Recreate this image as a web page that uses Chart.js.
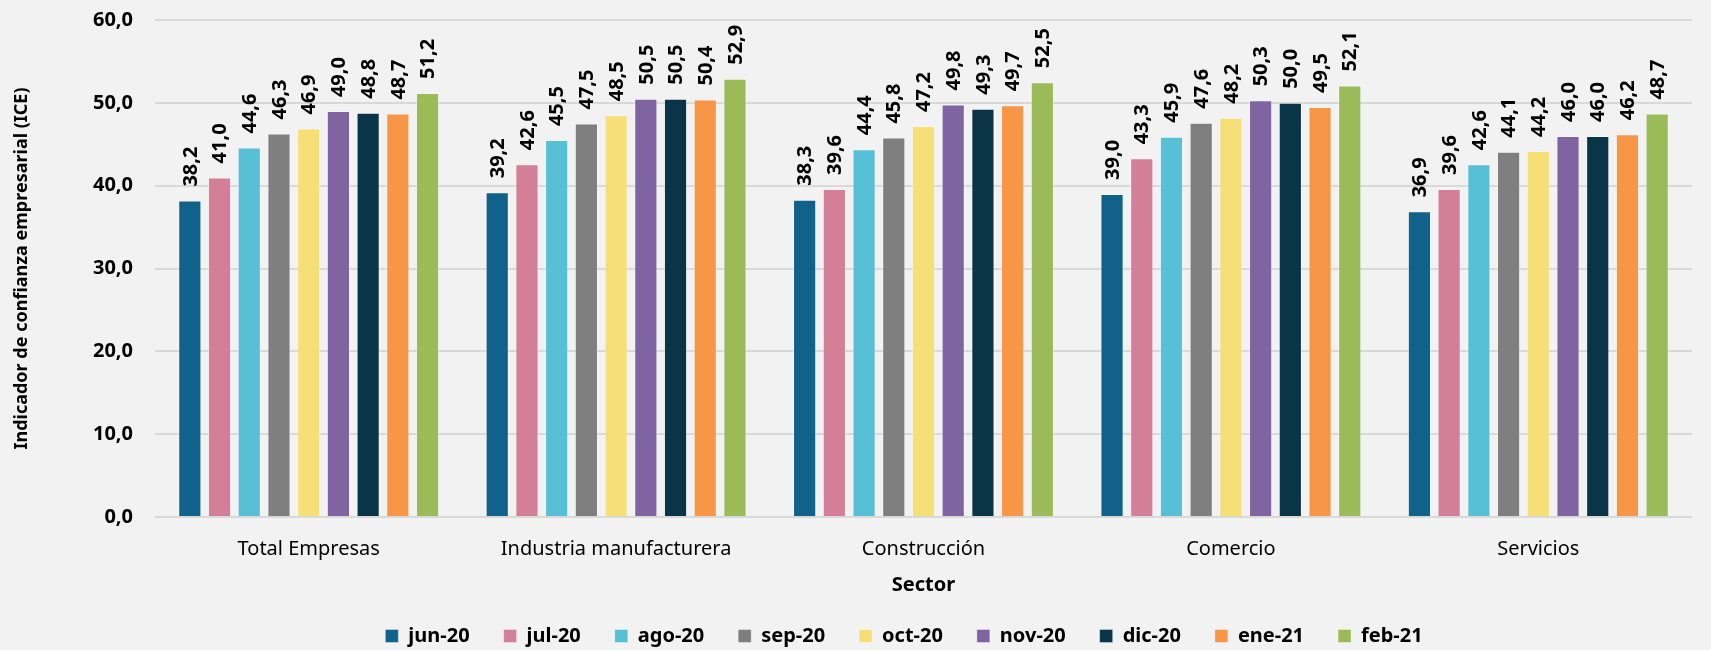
<!DOCTYPE html>
<html>
<head>
<meta charset="utf-8">
<script src="https://cdn.jsdelivr.net/npm/chart.js@4/dist/chart.umd.min.js"></script>
<style>
  html, body { margin: 0; padding: 0; background: #f2f2f2; }
  #wrap { width: 1711px; height: 650px; position: relative; }
</style>
</head>
<body>
<div id="wrap"><canvas id="chart"></canvas></div>
<script>
// categories and series (one array per month)
const sectors = ["Total Empresas", "Industria manufacturera", "Construcción", "Comercio", "Servicios"];
const months = ["jun-20", "jul-20", "ago-20", "sep-20", "oct-20", "nov-20", "dic-20", "ene-21", "feb-21"];

const jun20 = [38.2, 39.2, 38.3, 39.0, 36.9];
const jul20 = [41.0, 42.6, 39.6, 43.3, 39.6];
const ago20 = [44.6, 45.5, 44.4, 45.9, 42.6];
const sep20 = [46.3, 47.5, 45.8, 47.6, 44.1];
const oct20 = [46.9, 48.5, 47.2, 48.2, 44.2];
const nov20 = [49.0, 50.5, 49.8, 50.3, 46.0];
const dic20 = [48.8, 50.5, 49.3, 50.0, 46.0];
const ene21 = [48.7, 50.4, 49.7, 49.5, 46.2];
const feb21 = [51.2, 52.9, 52.5, 52.1, 48.7];

const yTicks = [0, 10, 20, 30, 40, 50, 60];

const series = [jun20, jul20, ago20, sep20, oct20, nov20, dic20, ene21, feb21];
const colors = ["#10628a", "#d47f9a", "#57bfd6", "#7f7f7f", "#f6df76", "#8064a2", "#0a3448", "#f79646", "#9bbb59"];

const fmt = v => v.toFixed(1).replace(".", ",");
const FONT = "'Noto Sans', 'Open Sans', sans-serif";

// rotated value labels above each bar
const valueLabels = {
    id: "valueLabels",
    afterDatasetsDraw(chart) {
        const ctx = chart.ctx;
        ctx.save();
        ctx.font = "bold 20px " + FONT;
        ctx.fillStyle = "#000";
        ctx.textAlign = "left";
        ctx.textBaseline = "middle";
        chart.data.datasets.forEach((ds, i) => {
            chart.getDatasetMeta(i).data.forEach((bar, j) => {
                ctx.save();
                ctx.translate(bar.x, bar.y - 14);
                ctx.rotate(-Math.PI / 2);
                ctx.fillText(fmt(ds.data[j]), 0, 1);
                ctx.restore();
            });
        });
        ctx.restore();
    }
};

// legend in the original sits a bit right of the canvas centre
const legendShift = {
    id: "legendShift",
    afterLayout(chart) {
        chart.legend.left += 58;
        chart.legend.right += 58;
    }
};

new Chart(document.getElementById("chart"), {
    type: "bar",
    data: {
        labels: sectors,
        datasets: series.map((d, i) => ({
            label: months[i],
            data: d,
            backgroundColor: colors[i],
            borderColor: "rgba(255,255,255,0.35)",
            borderWidth: 1,
            barPercentage: 0.78,
            categoryPercentage: 0.87
        }))
    },
    options: {
        responsive: true,
        maintainAspectRatio: false,
        animation: false,
        layout: { padding: { top: 20, right: 19, left: 0, bottom: -6 } },
        plugins: {
            legend: {
                position: "bottom",
                labels: {
                    boxWidth: 13,
                    boxHeight: 13,
                    padding: 34,
                    color: "#000",
                    font: { family: FONT, size: 20, weight: "bold" }
                }
            },
            tooltip: { enabled: false }
        },
        scales: {
            x: {
                grid: { display: false },
                border: { display: false },
                ticks: { color: "#000", font: { family: FONT, size: 20 }, padding: 12 },
                title: {
                    display: true,
                    text: "Sector",
                    color: "#000",
                    font: { family: FONT, size: 20, weight: "bold" },
                    padding: { top: 0, bottom: -5 }
                }
            },
            y: {
                min: 0,
                max: 60,
                afterBuildTicks: axis => { axis.ticks = yTicks.map(v => ({ value: v })); },
                afterFit: axis => { axis.width = 155; },
                grid: { color: "#d9d9d9", lineWidth: 2, drawTicks: true, tickLength: 22, tickColor: "rgba(0,0,0,0)" },
                border: { display: false },
                ticks: {
                    color: "#000",
                    padding: 0,
                    font: { family: FONT, size: 20, weight: "bold" },
                    callback: v => fmt(v)
                },
                title: {
                    display: true,
                    text: "Indicador de confianza empresarial (ICE)",
                    color: "#000",
                    font: { family: FONT, size: 18, weight: "bold" },
                    padding: { top: 11, bottom: 0 }
                }
            }
        }
    },
    plugins: [valueLabels, legendShift]
});
</script>
</body>
</html>
